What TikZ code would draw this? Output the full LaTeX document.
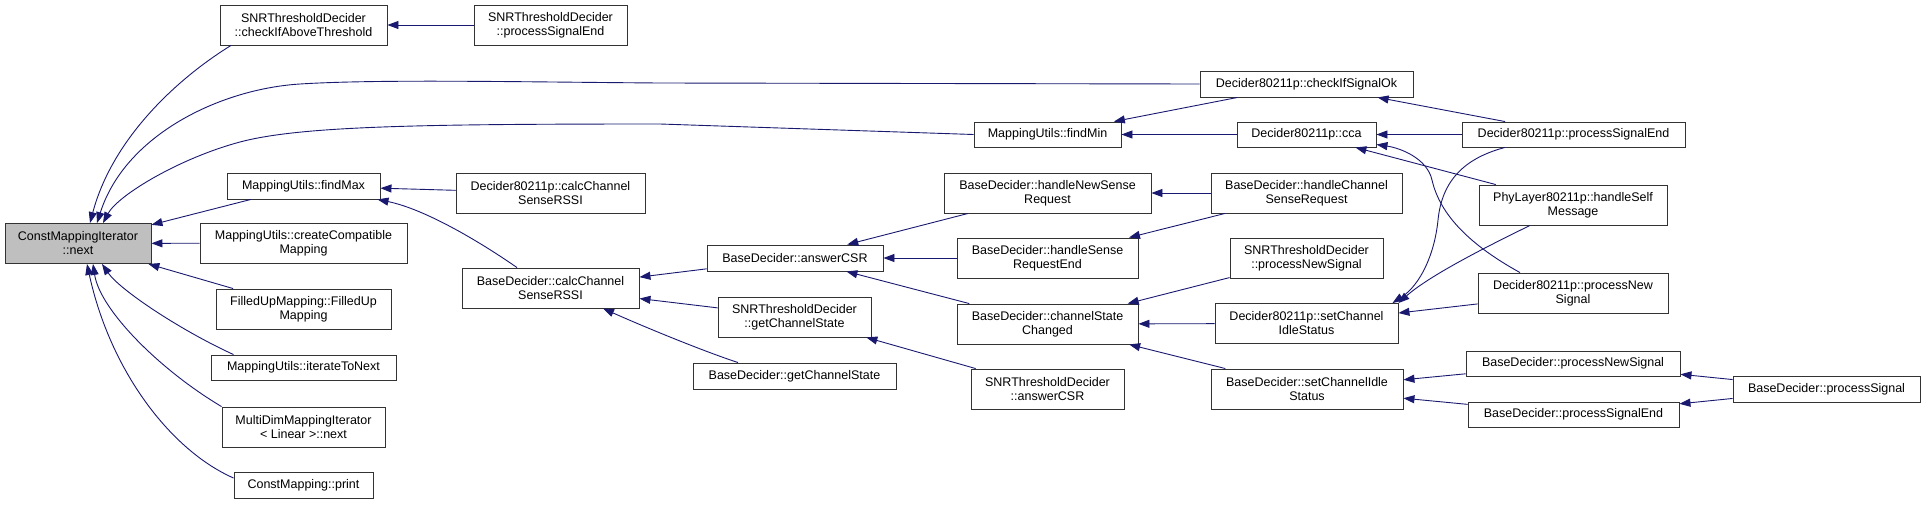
\documentclass[tikz,border=0pt]{standalone}
\usepackage{fontspec}
\setmainfont{Liberation Sans}
\usetikzlibrary{positioning, arrows.meta}
\definecolor{edgeblue}{HTML}{191970}
\definecolor{curgray}{HTML}{BFBFBF}

\begin{document}
\begin{tikzpicture}[
      x=1pt, y=-1pt,
      % 関数ボックスの基本スタイル
      block/.style={rectangle, draw=black!80, line width=0.9pt, fill=white, align=center, inner sep=0pt, minimum height=26},
      two/.style={block, minimum height=40},
      % 呼び出し矢印のスタイル
      line/.style={draw=edgeblue, line width=0.9pt, -{Triangle[length=11pt, width=8pt]}},
      font=\fontsize{12.5}{14}\selectfont
    ]
    \useasboundingbox (0,0) rectangle (1925,504);

    % --- 左端：対象の関数 ---
    \node [two, fill=curgray, minimum width=146] (next) at (78,243.5) {ConstMappingIterator\\::next};

    % --- 1列目 ---
    \node [two, minimum width=167] (chkAbove) at (303.5,25) {SNRThresholdDecider\\::checkIfAboveThreshold};
    \node [block, minimum width=153] (findMax) at (303.5,186) {MappingUtils::findMax};
    \node [two, minimum width=207] (createCompat) at (303.5,243) {MappingUtils::createCompatible\\Mapping};
    \node [two, minimum width=175] (filledUp) at (303.5,309) {FilledUpMapping::FilledUp\\Mapping};
    \node [block, minimum width=185, minimum height=25] (iterNext) at (303.5,367.5) {MappingUtils::iterateToNext};
    \node [two, minimum width=163] (multiDim) at (303.5,427) {MultiDimMappingIterator\\< Linear >::next};
    \node [block, minimum width=139] (print) at (303.5,485) {ConstMapping::print};

    % --- 2列目 ---
    \node [two, minimum width=153] (snrPSE) at (550.5,25) {SNRThresholdDecider\\::processSignalEnd};
    \node [two, minimum width=189] (dCalc) at (550.5,193) {Decider80211p::calcChannel\\SenseRSSI};
    \node [two, minimum width=177] (bCalc) at (550.5,288) {BaseDecider::calcChannel\\SenseRSSI};

    % --- 3列目 ---
    \node [block, minimum width=176] (answerCSR) at (795,258) {BaseDecider::answerCSR};
    \node [two, minimum width=153] (snrGCS) at (794.5,317) {SNRThresholdDecider\\::getChannelState};
    \node [block, minimum width=203] (bGCS) at (794.5,376) {BaseDecider::getChannelState};

    % --- 4列目 ---
    \node [block, minimum width=147, minimum height=25] (findMin) at (1047.5,134.5) {MappingUtils::findMin};
    \node [two, minimum width=207] (hNewSense) at (1047.5,193) {BaseDecider::handleNewSense\\Request};
    \node [two, minimum width=181] (hSenseEnd) at (1047.5,258) {BaseDecider::handleSense\\RequestEnd};
    \node [two, minimum width=181] (chStChanged) at (1047.5,324) {BaseDecider::channelState\\Changed};
    \node [two, minimum width=153] (snrAns) at (1047.5,389) {SNRThresholdDecider\\::answerCSR};

    % --- 5列目 ---
    \node [block, minimum width=213] (chkOk) at (1306.5,84) {Decider80211p::checkIfSignalOk};
    \node [block, minimum width=139, minimum height=25] (cca) at (1306.5,134.5) {Decider80211p::cca};
    \node [two, minimum width=191] (hChSense) at (1306.5,193) {BaseDecider::handleChannel\\SenseRequest};
    \node [two, minimum width=153] (snrPNS) at (1306.5,258) {SNRThresholdDecider\\::processNewSignal};
    \node [two, minimum width=183] (dSetIdle) at (1306.5,323.5) {Decider80211p::setChannel\\IdleStatus};
    \node [two, minimum width=192] (bSetIdle) at (1307,389) {BaseDecider::setChannelIdle\\Status};

    % --- 6列目 ---
    \node [block, minimum width=223, minimum height=25] (dPSE) at (1573.5,134.5) {Decider80211p::processSignalEnd};
    \node [two, minimum width=188] (phySelf) at (1573,205) {PhyLayer80211p::handleSelf\\Message};
    \node [two, minimum width=190] (dPNS) at (1573,293) {Decider80211p::processNew\\Signal};
    \node [block, minimum width=214, minimum height=25] (bPNS) at (1573,363.5) {BaseDecider::processNewSignal};
    \node [block, minimum width=211, minimum height=25] (bPSE) at (1573.5,414.5) {BaseDecider::processSignalEnd};

    % --- 7列目 ---
    \node [block, minimum width=187] (bPS) at (1826.5,389) {BaseDecider::processSignal};

    % --- 矢印：next への呼び出し ---
    \draw [line] ([xshift=-72.5pt]chkAbove.south) .. controls (175,80) and (112,140) .. ([xshift=12pt]next.north);
    \draw [line] (chkOk.west) -- (660,83) .. controls (520,82) and (380,79) .. (300,84)
                 .. controls (220,89) and (125,135) .. ([xshift=19pt]next.north);
    \draw [line] (findMin.west) -- (660,124) .. controls (420,124) and (300,126) .. (240,142)
                 .. controls (180,158) and (118,195) .. ([xshift=25pt]next.north);
    \draw [line] (findMax) -- (next);
    \draw [line] (createCompat) -- (next);
    \draw [line] (filledUp) -- (next);
    \draw [line] ([xshift=-70pt]iterNext.north) .. controls (180,330) and (120,290) .. ([xshift=24pt]next.south);
    \draw [line] (multiDim.north west) .. controls (160,370) and (100,310) .. ([xshift=15pt]next.south);
    \draw [line] ([yshift=7pt]print.west) .. controls (170,450) and (110,370) .. ([xshift=9pt]next.south);

    % --- 矢印：中央部 ---
    \draw [line] (snrPSE) -- (chkAbove);
    \draw [line] (dCalc) -- (findMax);
    \draw [line] ([xshift=-33.5pt]bCalc.north) .. controls (470,235) and (420,208) .. ([xshift=-3pt]findMax.south east);
    \draw [line] (answerCSR) -- (bCalc);
    \draw [line] (snrGCS) -- (bCalc);
    \draw [line] ([xshift=-56.5pt]bGCS.north) .. controls (700,350) and (640,325) .. ([xshift=52.5pt]bCalc.south);
    \draw [line] (hNewSense) -- (answerCSR);
    \draw [line] (hSenseEnd) -- (answerCSR);
    \draw [line] (chStChanged) -- (answerCSR);
    \draw [line] (snrAns) -- (snrGCS);
    \draw [line] (chkOk) -- (findMin);
    \draw [line] (cca) -- (findMin);
    \draw [line] (hChSense) -- (hNewSense);
    \draw [line] (hChSense) -- (hSenseEnd);
    \draw [line] (snrPNS) -- (chStChanged);
    \draw [line] (dSetIdle) -- (chStChanged);
    \draw [line] (bSetIdle) -- (chStChanged);

    % --- 矢印：右側 ---
    \draw [line] (dPSE) -- (chkOk);
    \draw [line] (dPSE) -- (cca);
    \draw [line] (phySelf) -- (cca);
    \draw [line] ([xshift=-53pt]dPNS.north) .. controls (1470,245) and (1440,215) .. (1432,180)
                 .. controls (1427,158) and (1400,148) .. ([yshift=-10pt]cca.east);
    \draw [line] ([xshift=-68.5pt]dPSE.south) .. controls (1465,158) and (1442,180) .. (1438,220)
                 .. controls (1434.5,255) and (1420,285) .. ([xshift=-6pt]dSetIdle.north east);
    \draw [line] ([xshift=-43pt]phySelf.south) .. controls (1490,245) and (1430,275) .. (dSetIdle.north east);
    \draw [line] (dPNS) -- (dSetIdle);
    \draw [line] (bPNS) -- (bSetIdle);
    \draw [line] (bPSE) -- (bSetIdle);
    \draw [line] (bPS) -- (bPNS);
    \draw [line] (bPS) -- (bPSE);

    \end{tikzpicture}
\end{document}
